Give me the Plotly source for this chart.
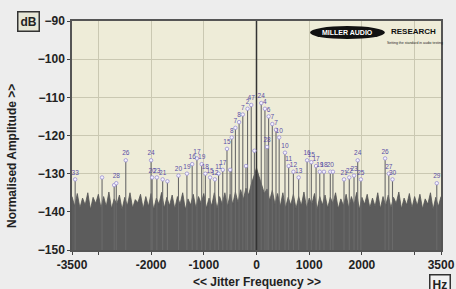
import plotly.graph_objects as go

# ---------------- data ----------------
Y_MIN, Y_MAX = -150, -90
X_MIN, X_MAX = -3500, 3500

NOISE_FREQS = list(range(-3500, 3501, 50))
NOISE_DB = [
    -136.0, -138.5, -135.2, -139.0, -136.4, -138.2, -135.0, -139.4, -136.2, -137.8,
    -135.4, -139.0, -136.0, -138.6, -134.8, -139.2, -136.6, -138.0, -135.6, -139.4,
    -136.2, -138.4, -135.0, -139.0, -136.8, -137.6, -135.4, -139.2, -136.0, -138.6,
    -135.2, -139.4, -136.4, -138.0, -134.9, -139.0, -136.2, -138.4, -135.6, -139.2,
    -136.0, -138.0, -135.0, -139.4, -136.6, -138.2, -135.4, -139.0, -136.0, -137.8,
    -135.2, -139.0, -136.4, -138.4, -135.0, -139.2, -136.0, -138.0, -135.0, -138.6,
    -135.4, -138.0, -134.8, -137.6, -134.2, -136.8, -133.8, -135.6, -132.8, -130.6,
    -128.5, -130.8, -133.0, -135.2, -134.0, -137.0, -134.4, -138.0, -135.2, -138.6,
    -135.0, -139.0, -136.2, -138.2, -135.4, -139.2, -136.0, -138.4, -134.8, -139.0,
    -136.4, -138.0, -135.2, -139.4, -136.0, -138.2, -135.6, -139.0, -136.2, -137.8,
    -135.0, -139.2, -136.6, -138.4, -135.4, -139.0, -136.0, -138.2, -134.9, -139.4,
    -136.2, -138.0, -135.4, -139.0, -136.4, -138.6, -135.0, -139.2, -136.0, -138.4,
    -135.6, -139.0, -136.2, -137.8, -134.8, -139.2, -136.4, -138.2, -135.2, -139.0,
    -136.0, -138.4, -135.4, -139.2, -136.6, -138.0, -135.0, -139.4, -136.2, -138.6,
    -136.0,
]

SPIKE_FREQS = [
    -3440, -2930, -2700, -2660, -2480, -2000, -1980, -1890, -1780, -1690,
    -1480, -1320, -1220, -1130, -1040, -970, -880, -790, -720, -640,
    -560, -500, -470, -400, -330, -260, -200, -170, -100, -40,
    90, 160, 200, 230, 300, 370, 430, 540, 610, 700,
    800, 960, 1040, 1130, 1200, 1280, 1400, 1450, 1660, 1760,
    1850, 1920, 1980, 2440, 2510, 2580, 3420,
]
SPIKE_DB = [
    -131.5, -131.0, -133.0, -132.5, -126.5, -126.5, -131.0, -131.0, -131.5, -132.0,
    -130.5, -130.0, -127.5, -126.0, -127.5, -130.0, -131.0, -131.5, -130.0, -129.0,
    -123.5, -129.0, -120.5, -118.0, -116.5, -114.5, -128.0, -113.0, -112.0, -124.0,
    -111.5, -113.0, -123.0, -115.0, -117.0, -118.5, -120.5, -124.5, -128.0, -129.5,
    -131.0, -126.5, -127.0, -128.0, -129.5, -129.5, -129.5, -129.5, -131.5, -131.0,
    -130.5, -126.5, -131.5, -126.0, -130.0, -131.5, -132.5,
]
SPIKE_LABELS = [
    "33", "", "", "28", "26", "24", "20", "23", "21", "",
    "20", "19", "16", "17", "19", "18", "15", "12", "11", "17",
    "15", "", "8", "7", "8", "7", "", "2", "47", "",
    "24", "4", "28", "6", "7", "7", "10", "10", "11", "12",
    "13", "16", "15", "17", "19", "18", "20", "", "21", "22",
    "23", "24", "25", "26", "27", "30", "29",
]

CARRIER_FREQ = [0]
CARRIER_DB = [0]

X_TICKS = [-3500, -3000, -2000, -1000, 0, 1000, 2000, 3000, 3500]
X_TICK_TEXT = ["-3500", "", "-2000", "-1000", "0", "1000", "2000", "", "3500"]
Y_TICKS = [-150, -140, -130, -120, -110, -100, -90]

# ---------------- figure ----------------
fig = go.Figure()

fig.add_trace(go.Scatter(
    x=NOISE_FREQS, y=[Y_MIN] * len(NOISE_FREQS), mode="lines",
    line=dict(width=0, color="#5e5e5e"), hoverinfo="skip", showlegend=False))
fig.add_trace(go.Scatter(
    x=NOISE_FREQS, y=NOISE_DB, mode="lines", fill="tonexty",
    fillcolor="#5c5c5c", line=dict(width=0.8, color="#555555"),
    showlegend=False))

sx, sy = [], []
for f, d in zip(SPIKE_FREQS, SPIKE_DB):
    sx += [f, f, None]
    sy += [Y_MIN, d, None]
fig.add_trace(go.Scatter(x=sx, y=sy, mode="lines",
                         line=dict(width=1.1, color="#6a6a6a"),
                         showlegend=False))

cx, cy = [], []
for f, d in zip(CARRIER_FREQ, CARRIER_DB):
    cx += [f, f, None]
    cy += [Y_MIN, d, None]
fig.add_trace(go.Scatter(x=cx, y=cy, mode="lines",
                         line=dict(width=1.5, color="#333333"),
                         showlegend=False))

fig.add_trace(go.Scatter(
    x=SPIKE_FREQS, y=SPIKE_DB, mode="markers+text", text=SPIKE_LABELS,
    textposition="top center",
    textfont=dict(size=6.5, color="#5a4fa6", family="Arial"),
    marker=dict(size=3.5, color="#f4f2ff", line=dict(width=0.8, color="#9a90d0")),
    showlegend=False))

fig.update_layout(
    width=456, height=289,
    margin=dict(l=72, r=15, t=21, b=39),
    paper_bgcolor="#ededed",
    plot_bgcolor="#eeecd8",
    font=dict(family="Arial", color="#222222"),
    xaxis=dict(
        range=[X_MIN, X_MAX], tickvals=X_TICKS, ticktext=X_TICK_TEXT,
        tickfont=dict(size=12, weight="bold", color="#222"),
        ticks="outside", ticklen=3, tickcolor="#444",
        showgrid=True, gridcolor="#cac8b2", gridwidth=1,
        zeroline=False, showline=True, linecolor="#555", linewidth=1.5, mirror=True,
        automargin=False,
    ),
    yaxis=dict(
        range=[Y_MIN, Y_MAX], tickvals=Y_TICKS,
        tickfont=dict(size=12, weight="bold", color="#222"),
        ticks="outside", ticklen=3, tickcolor="#444",
        showgrid=True, gridcolor="#cac8b2", gridwidth=1,
        zeroline=False, showline=True, linecolor="#555", linewidth=1.5, mirror=True,
        automargin=False,
    ),
    shapes=[
        dict(type="circle", xref="paper", yref="paper",
             x0=0.645, x1=0.848, y0=0.921, y1=0.978,
             fillcolor="#111111", line=dict(width=0)),
    ],
    annotations=[
        dict(text="<b>Normalised Amplitude >></b>", xref="paper", yref="paper",
             x=-0.163, y=0.41, textangle=-90, xanchor="center", yanchor="middle",
             showarrow=False, font=dict(size=12, color="#222")),
        dict(text="<b><< Jitter Frequency >></b>", xref="paper", yref="paper",
             x=0.5, y=-0.14, xanchor="center", yanchor="middle",
             showarrow=False, font=dict(size=12, color="#222")),
        dict(text="<b>dB</b>", xref="paper", yref="paper", x=-0.119, y=0.996,
             xanchor="center", yanchor="middle", showarrow=False,
             font=dict(size=12, color="#222"), bordercolor="#333",
             borderwidth=1.5, borderpad=2, bgcolor="#e6e6d6"),
        dict(text="<b>Hz</b>", xref="paper", yref="paper", x=0.997, y=-0.15,
             xanchor="center", yanchor="middle", showarrow=False,
             font=dict(size=12, color="#222"), bordercolor="#333",
             borderwidth=1.5, borderpad=2, bgcolor="#f2f2f2"),
        dict(text="<b>MILLER AUDIO</b>", xref="paper", yref="paper", x=0.746, y=0.951,
             xanchor="center", yanchor="middle", showarrow=False,
             font=dict(size=7, color="white", family="Arial")),
        dict(text="<b>RESEARCH</b>", xref="paper", yref="paper", x=0.925, y=0.953,
             xanchor="center", yanchor="middle", showarrow=False,
             font=dict(size=8, color="#111", family="Arial")),
        dict(text="Setting the standard in audio testing", xref="paper", yref="paper",
             x=0.93, y=0.905, xanchor="center", yanchor="middle", showarrow=False,
             font=dict(size=3.5, color="#222", family="Arial")),
    ],
)

fig.write_html(
    "out.html",
    config={"displayModeBar": False},
    post_script="document.body.style.margin='0';document.body.style.overflow='hidden';",
)
